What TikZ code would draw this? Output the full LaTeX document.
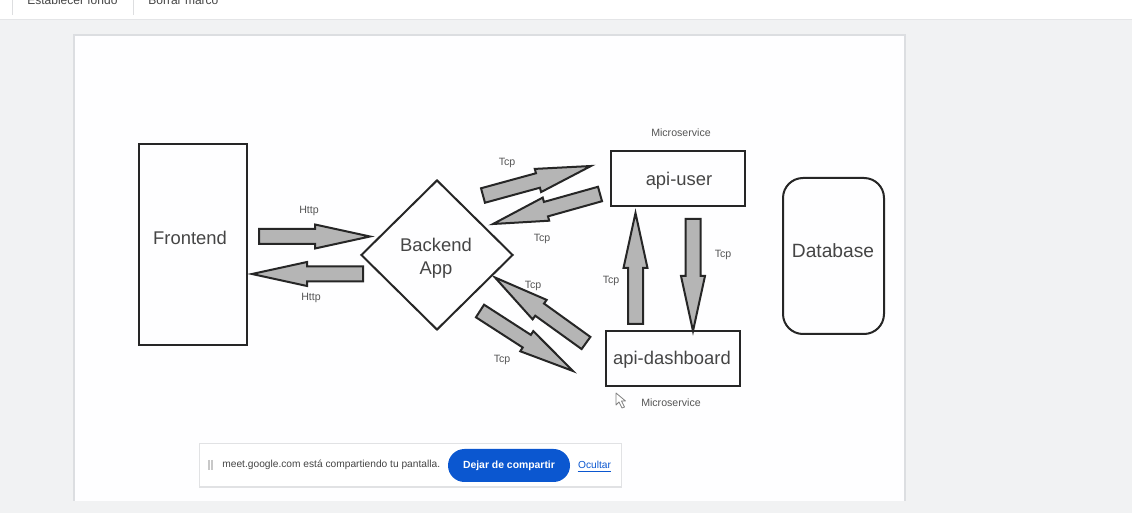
\documentclass[tikz,border=0pt]{standalone}
\usepackage{fontspec}
\setmainfont{Liberation Sans}
\usetikzlibrary{calc,shapes.geometric}
\definecolor{pagebg}{HTML}{F1F2F3}
\definecolor{canvasbg}{HTML}{FEFEFF}
\definecolor{edge}{HTML}{262626}
\definecolor{txt}{HTML}{454545}
\definecolor{lbl}{HTML}{555555}
\definecolor{arrfill}{HTML}{B5B5B5}
\definecolor{meetblue}{HTML}{0B57D0}
\definecolor{topline}{HTML}{E4E5E7}
\definecolor{sepline}{HTML}{DDDEE0}
\definecolor{canvasedge}{HTML}{DCDEE1}
\definecolor{barshadow}{HTML}{E1E2E4}
\definecolor{grip}{HTML}{C8C8C8}
\tikzset{
  box/.style={draw=edge, line width=1pt, inner sep=0pt},
  maintext/.style={text=txt, font=\fontsize{9.2pt}{11.5pt}\selectfont, align=center, inner sep=0pt},
  smalltext/.style={text=lbl, font=\fontsize{5.3pt}{6pt}\selectfont, inner sep=0pt},
  blockarrow/.style={draw=edge, fill=arrfill, line width=1pt},
  uitext/.style={text=txt, font=\fontsize{6pt}{7pt}\selectfont, inner sep=0pt, anchor=base west},
}
\newcommand\blockarr[2]{%
  \coordinate (#2-hb) at ($(#2)!27.5pt!(#1)$);
  \draw[blockarrow] ($(#1)!3.75pt!90:(#2)$) -- ($(#2-hb)!3.75pt!-90:(#1)$) -- ($(#2-hb)!6pt!-90:(#1)$) -- (#2) -- ($(#2-hb)!6pt!90:(#1)$) -- ($(#2-hb)!3.75pt!90:(#1)$) -- ($(#1)!3.75pt!-90:(#2)$) -- cycle;}
\begin{document}
\begin{tikzpicture}[x=0.5pt,y=-0.5pt]
\useasboundingbox (0,0) rectangle (1132,513);
\clip (0,0) rectangle (1132,513);
% backgrounds
\fill[pagebg] (0,0) rectangle (1132,513);
\fill[white] (0,0) rectangle (1132,19);
\draw[topline, line width=0.5pt] (0,19.5) -- (1132,19.5);
\draw[sepline, line width=0.5pt] (12,0) -- (12,15) (133,0) -- (133,15);
\node[uitext] (tb1) at (27,5) {Establecer fondo};
\node[uitext] (tb2) at (148,5) {Borrar marco};
\fill[canvasbg] (74,35) rectangle (905,501);
\draw[canvasedge, line width=0.6pt] (74,501) -- (74,35) -- (905,35) -- (905,501);

% main nodes
\node[box, minimum width=54pt, minimum height=100.5pt] (fe) at (193,244.5) {};
\node[maintext] (fe-t) at (190,238) {Frontend};
\node[box, diamond, minimum width=76pt, minimum height=75pt] (be) at (437,255) {};
\node[maintext] (be-t) at (436,258) {Backend\\App};
\node[box, minimum width=67pt, minimum height=27.5pt] (au) at (678,178.5) {};
\node[maintext] (au-t) at (679,181) {api-user};
\node[box, minimum width=67pt, minimum height=27.5pt] (ad) at (673,358.5) {};
\node[maintext] (ad-t) at (672,360) {api-dashboard};
\node[box, rounded corners=10pt, minimum width=50.5pt, minimum height=78pt] (db) at (833.5,256) {};
\node[maintext, font=\fontsize{9.6pt}{11pt}\selectfont] (db-t) at (833,251) {Database};
\node[smalltext] (ms1) at (681,133) {Microservice};
\node[smalltext] (ms2) at (671,403) {Microservice};

% arrow end points
\coordinate (a1t) at (259,236.5); \coordinate (a1h) at (370,236.5);
\coordinate (a2t) at (363,274);   \coordinate (a2h) at (252,274);
\coordinate (a3t) at (483,195.5); \coordinate (a3h) at (591,166);
\coordinate (a4t) at (600,194);   \coordinate (a4h) at (493,224);
\coordinate (a5t) at (586,343);   \coordinate (a5h) at (495,277.5);
\coordinate (a6t) at (480,311);   \coordinate (a6h) at (573,371);
\coordinate (a7t) at (635.5,324); \coordinate (a7h) at (635.5,213);
\coordinate (a8t) at (693,219);   \coordinate (a8h) at (693,331);
\blockarr{a1t}{a1h}
\blockarr{a2t}{a2h}
\blockarr{a3t}{a3h}
\blockarr{a4t}{a4h}
\blockarr{a5t}{a5h}
\blockarr{a6t}{a6h}
\blockarr{a7t}{a7h}
\blockarr{a8t}{a8h}

% labels
\node[smalltext] (l1) at (309,211) {Http};
\node[smalltext] (l2) at (311,298) {Http};
\node[smalltext] (l3) at (507,163) {Tcp};
\node[smalltext] (l4) at (542,239) {Tcp};
\node[smalltext] (l5) at (533,286) {Tcp};
\node[smalltext] (l6) at (502,360) {Tcp};
\node[smalltext] (l7) at (611,281) {Tcp};
\node[smalltext] (l8) at (723,255) {Tcp};

% cursor
\draw[fill=white, draw=gray, line width=0.4pt, line join=round] (616,393) -- (616,405) -- (619,402) -- (622,408) -- (624.5,407) -- (621.5,401) -- (625.5,401) -- cycle;

% screen-sharing bar
\fill[barshadow] (199,443) rectangle (622,488);
\fill[white] (200,444) rectangle (621,486);
\draw[grip, line width=0.6pt] (209,460) -- (209,470) (212,460) -- (212,470);
\node[text=txt, font=\fontsize{5.1pt}{6pt}\selectfont, inner sep=0pt, anchor=west] (mt) at (222,465) {meet.google.com está compartiendo tu pantalla.};
\node[fill=meetblue, rounded corners=8.25pt, minimum width=61pt, minimum height=16.5pt, inner sep=0pt] (btn) at (509,465.5) {};
\node[text=white, font=\bfseries\fontsize{5.2pt}{6pt}\selectfont, inner sep=0pt] (btn-t) at (509,465.5) {Dejar de compartir};
\node[text=meetblue, font=\fontsize{5.1pt}{6pt}\selectfont, inner sep=0pt] (oc) at (594.5,465) {Ocultar};
\draw[meetblue, line width=0.3pt] ($(oc.south west)+(0,2.5)$) -- ($(oc.south east)+(0,2.5)$);
\end{tikzpicture}
\end{document}
